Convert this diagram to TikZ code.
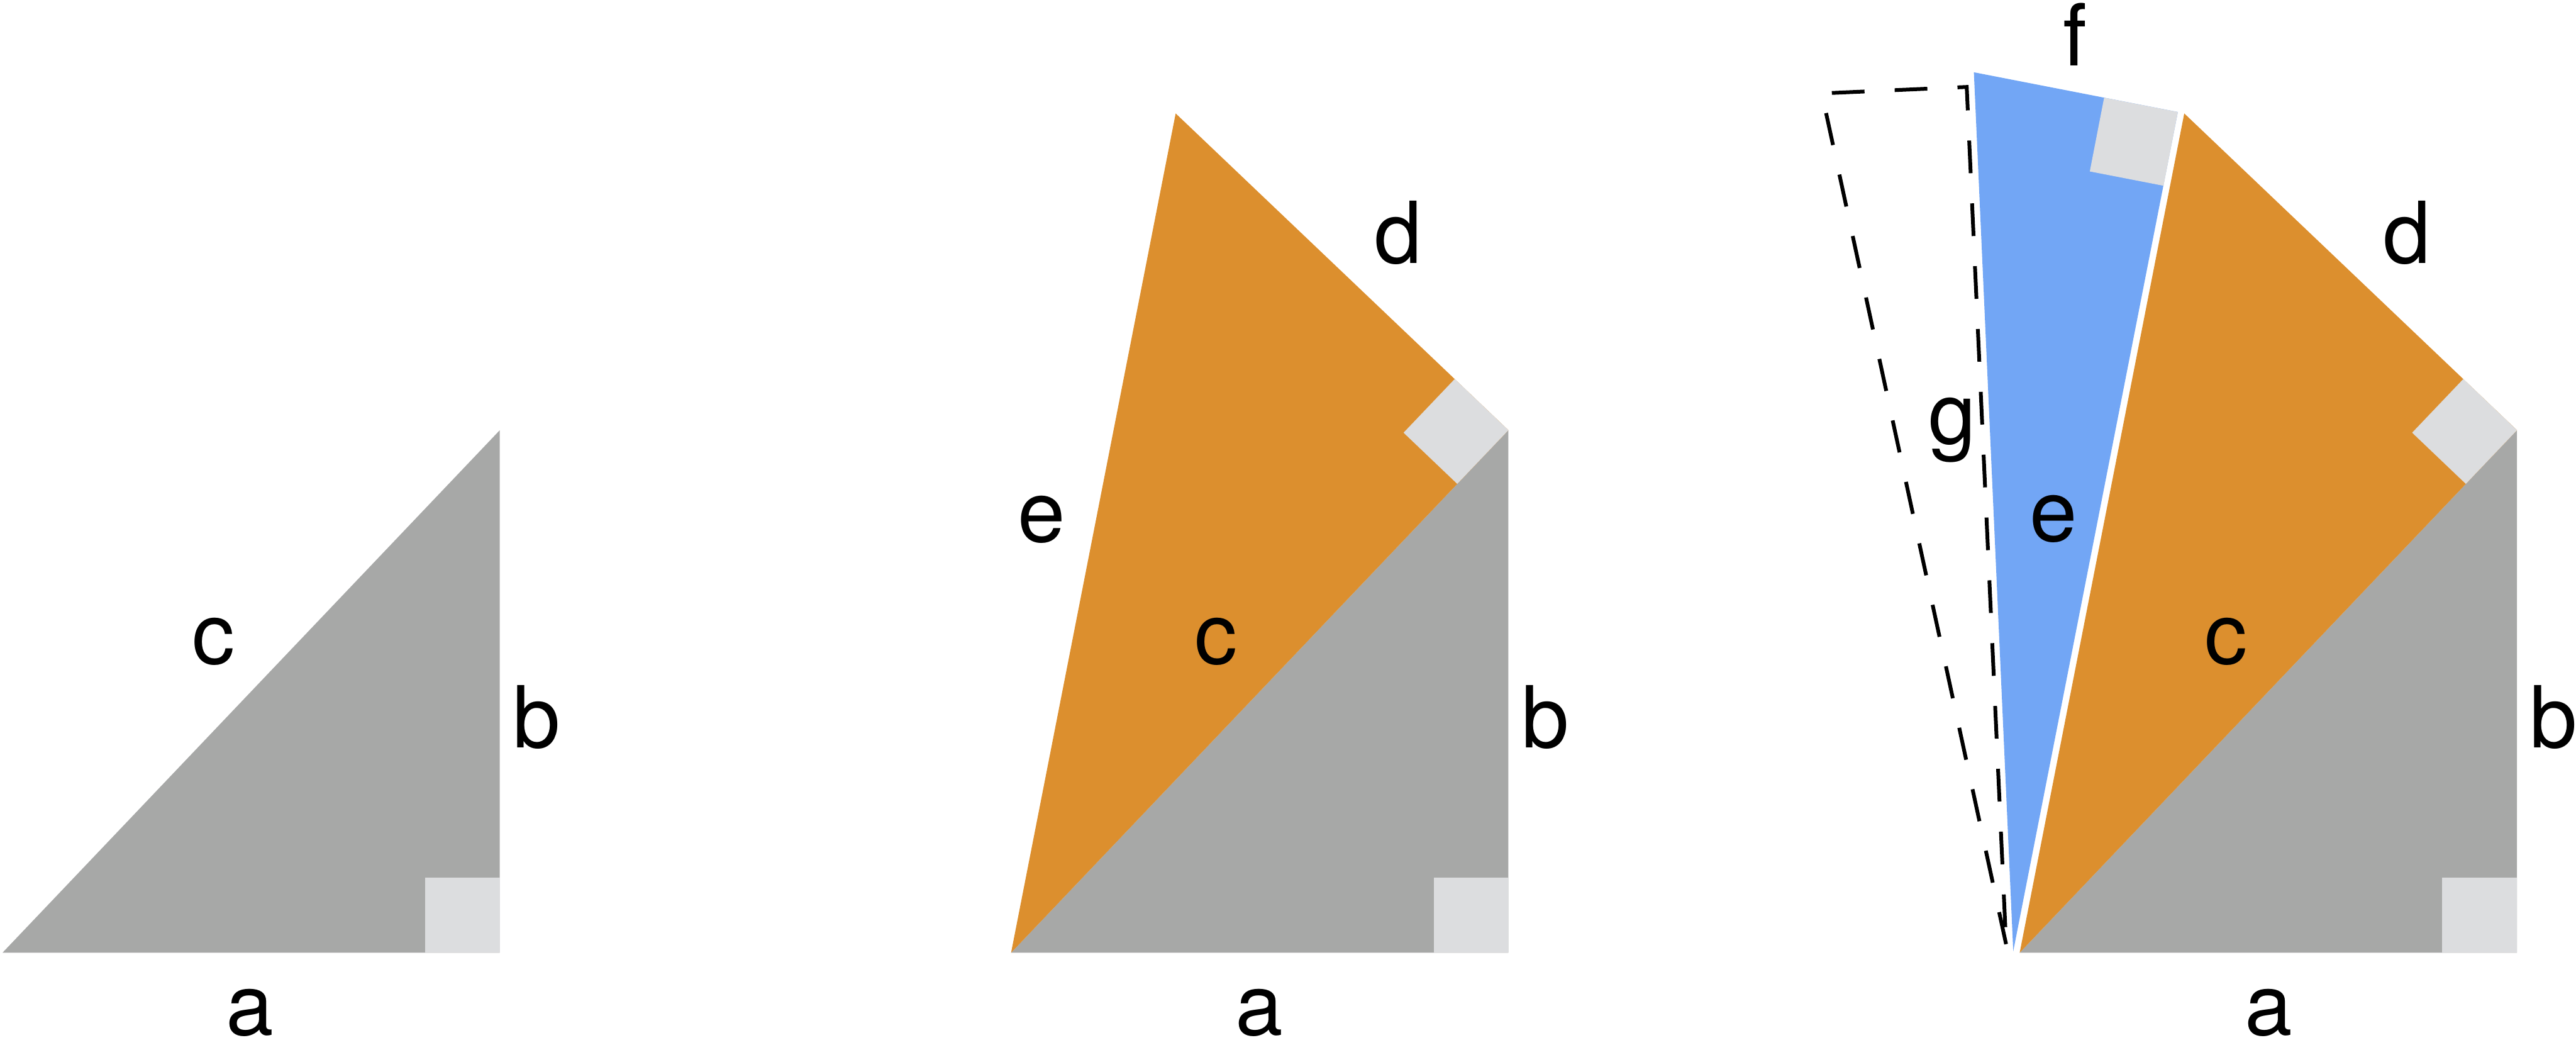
\documentclass[tikz,border=0pt]{standalone}
\usepackage{fontspec}
\setmainfont{TeX Gyre Heros}
\definecolor{leggray}{HTML}{A7A8A7}
\definecolor{cornergray}{HTML}{DCDDDF}
\definecolor{legorange}{HTML}{DC8F2E}
\definecolor{legblue}{HTML}{72A6F5}
\tikzset{
  graypiece/.style={fill=leggray},
  orangepiece/.style={fill=legorange},
  bluepiece/.style={fill=legblue},
  cornersq/.style={fill=cornergray},
  nextpiece/.style={draw=black, line width=3pt, dash pattern=on 26pt off 24pt, line join=miter},
  sidelabel/.style={font=\fontsize{68}{70}\selectfont, inner sep=0pt, anchor=base},
}

\begin{document}
\begin{tikzpicture}
\useasboundingbox (0,0) rectangle (72.0,29.33);
% left: a b c
\coordinate (o1) at (0.07,2.71);
\coordinate (r1) at (13.97,2.71);
\coordinate (p1) at (13.97,17.31);
\fill[graypiece] (o1) -- (r1) -- (p1) -- cycle;
\fill[cornersq] (r1) rectangle ++(-2.09,2.09);
\node[sidelabel] (c1) at (5.97,10.78) {c};
\node[sidelabel] (b1) at (15.00,8.44) {b};
\node[sidelabel] (a1) at (6.98,0.40) {a};
% middle: c d e
\coordinate (o2) at (28.26,2.71);
\coordinate (r2) at (42.16,2.71);
\coordinate (p2) at (42.16,17.31);
\coordinate (q2) at (32.86,26.16);
\fill[graypiece] (o2) -- (r2) -- (p2) -- cycle;
\fill[cornersq] (r2) rectangle ++(-2.09,2.09);
\fill[orangepiece] (o2) -- (p2) -- (q2) -- cycle;
\fill[cornersq] (p2) -- ++(-1.43,-1.50) -- ++(-1.50,1.43) -- ++(1.43,1.50) -- cycle;
\node[sidelabel] (e2) at (29.11,14.18) {e};
\node[sidelabel] (d2) at (39.08,21.98) {d};
\node[sidelabel] (c2) at (33.98,10.78) {c};
\node[sidelabel] (b2) at (43.19,8.44) {b};
\node[sidelabel] (a2) at (35.20,0.40) {a};
% right: e f g and the next one dashed
\coordinate (o3) at (56.45,2.71);
\coordinate (r3) at (70.35,2.71);
\coordinate (p3) at (70.35,17.31);
\coordinate (q3) at (61.05,26.16);
\fill[graypiece] (o3) -- (r3) -- (p3) -- cycle;
\fill[cornersq] (r3) rectangle ++(-2.09,2.09);
\fill[orangepiece] (o3) -- (p3) -- (q3) -- cycle;
\fill[cornersq] (p3) -- ++(-1.43,-1.50) -- ++(-1.50,1.43) -- ++(1.43,1.50) -- cycle;
\coordinate (ob) at (56.27,2.75);
\coordinate (qb) at (60.87,26.20);
\coordinate (rb) at (55.17,27.31);
\fill[bluepiece] (ob) -- (qb) -- (rb) -- cycle;
\fill[cornersq] (qb) -- ++(-0.40,-2.06) -- ++(-2.06,0.40) -- ++(0.40,2.06) -- cycle;
\coordinate (od) at (56.07,2.95);
\coordinate (td) at (54.97,26.90);
\coordinate (ud) at (50.92,26.72);
\draw[nextpiece] (od) -- (ud) -- (td) -- (od);
\node[sidelabel] (f3) at (58.00,27.50) {f};
\node[sidelabel] (g3) at (54.57,16.93) {g};
\node[sidelabel] (e3) at (57.40,14.20) {e};
\node[sidelabel] (d3) at (67.27,21.98) {d};
\node[sidelabel] (c3) at (62.22,10.78) {c};
\node[sidelabel] (b3) at (71.38,8.44) {b};
\node[sidelabel] (a3) at (63.40,0.40) {a};
\end{tikzpicture}
\end{document}
